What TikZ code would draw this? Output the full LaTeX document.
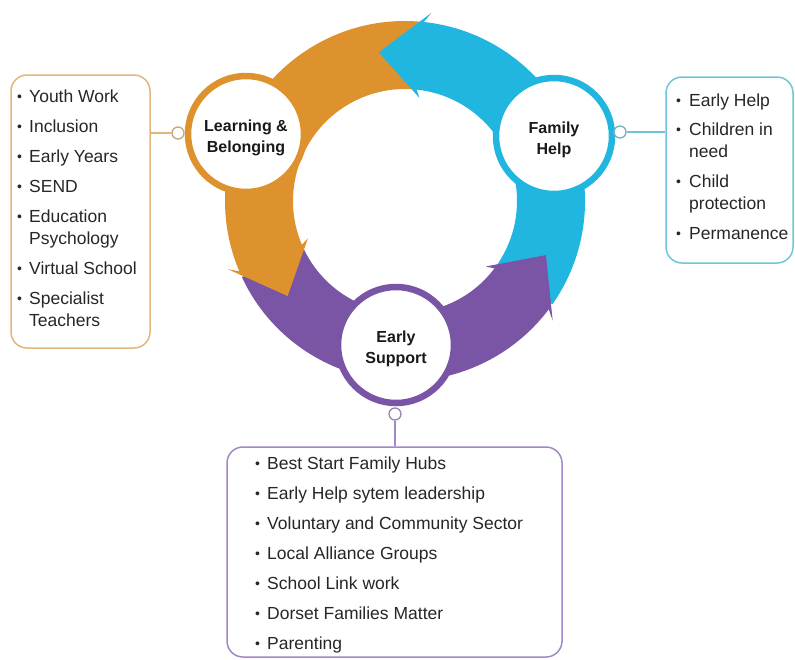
\documentclass[tikz,border=0pt]{standalone}
\usepackage{fontspec}
\setmainfont{Liberation Sans}
\usetikzlibrary{positioning,calc}
\definecolor{lbgold}{RGB}{222,146,45}
\definecolor{fhblue}{RGB}{33,182,224}
\definecolor{espurple}{RGB}{122,84,165}
\definecolor{lbline}{RGB}{226,182,122}
\definecolor{fhline}{RGB}{112,198,216}
\definecolor{esline}{RGB}{162,136,198}
\newcommand{\bul}{\makebox[11pt][l]{\raisebox{1pt}{\fontsize{14}{14}\selectfont\textbullet}}}
\newcommand{\lowtop}{\rule{0pt}{20pt}}
\tikzset{
    ringnode/.style={circle, draw, fill=white, line width=6.5pt, minimum size=116pt, inner sep=0pt, align=center, text=black!90, font=\fontsize{16}{21}\selectfont\bfseries},
    listbox/.style={rectangle, draw, rounded corners=16pt, line width=1.5pt, inner sep=0pt},
    listtext/.style={anchor=base west, inner sep=0pt, text=black!85, font=\fontsize{17.5}{22}\selectfont},
    linkdot/.style={circle, draw, fill=white, line width=1.3pt, minimum size=12pt, inner sep=0pt},
    link/.style={draw, line width=1.5pt}
}
\begin{document}
\begin{tikzpicture}[x=1pt, y=1pt]
    \useasboundingbox (0,0) rectangle (795,-659);

    % Ring of arrows
    \begin{scope}[shift={(405,-201)}]
        \fill[lbgold] (85:180pt) arc[start angle=85, end angle=204, radius=180pt] -- (204:112pt) arc[start angle=204, end angle=85, radius=112pt] -- cycle;
        \fill[espurple] (205:180pt) arc[start angle=205, end angle=324, radius=180pt] -- (324:112pt) arc[start angle=324, end angle=205, radius=112pt] -- cycle;
        \fill[fhblue] (-35:180pt) arc[start angle=-35, end angle=85, radius=180pt] -- (85:112pt) arc[start angle=85, end angle=-35, radius=112pt] -- cycle;
        % heads
        \fill[lbgold] (203:112pt) -- (201:104pt) -- (219:151pt) -- (201:190pt) -- (203:180pt) -- cycle;
        \fill[espurple] (323:112pt) -- (321:104pt) -- (339:151pt) -- (321:190pt) -- (323:180pt) -- cycle;
        \fill[fhblue] (84:112pt) -- (82:104pt) -- (100:151pt) -- (82:190pt) -- (84:180pt) -- cycle;
    \end{scope}

    % Service areas
    \node [ringnode, draw=lbgold] (learn) at (246,-134) {\lowtop Learning \&\\Belonging};
    \node [ringnode, draw=fhblue] (family) at (554,-136) {\lowtop Family\\Help};
    \node [ringnode, draw=espurple] (early) at (396,-345) {\lowtop Early\\Support};

    % Lists
    \node [listbox, draw=lbline, minimum width=139pt, minimum height=273pt] (lbox) at (80.5,-211.5) {};
    \node [listbox, draw=fhline, minimum width=127pt, minimum height=186pt] (fbox) at (729.5,-170) {};
    \node [listbox, draw=esline, minimum width=335pt, minimum height=210pt] (ebox) at (394.5,-552) {};

    \node [listtext] (llist) at (17,-102) {\begin{tabular}[t]{@{}l@{\hspace{1pt}}l@{}}
        \bul & Youth Work\\[8pt]
        \bul & Inclusion\\[8pt]
        \bul & Early Years\\[8pt]
        \bul & SEND\\[8pt]
        \bul & Education\\
             & Psychology\\[8pt]
        \bul & Virtual School\\[8pt]
        \bul & Specialist\\
             & Teachers
    \end{tabular}};
    \node [listtext] (flist) at (676,-106) {\begin{tabular}[t]{@{}l@{\hspace{2pt}}l@{}}
        \bul & Early Help\\[7pt]
        \bul & Children in\\
             & need\\[8pt]
        \bul & Child\\
             & protection\\[8pt]
        \bul & Permanence
    \end{tabular}};
    \node [listtext] (elist) at (255,-469) {\begin{tabular}[t]{@{}l@{\hspace{1pt}}l@{}}
        \bul & Best Start Family Hubs\\[8pt]
        \bul & Early Help sytem leadership\\[8pt]
        \bul & Voluntary and Community Sector\\[8pt]
        \bul & Local Alliance Groups\\[8pt]
        \bul & School Link work\\[8pt]
        \bul & Dorset Families Matter\\[8pt]
        \bul & Parenting
    \end{tabular}};

    % Links
    \node [linkdot, draw=lbline!70!gray] (ldot) at (178,-133) {};
    \node [linkdot, draw=fhline!70!gray] (fdot) at (620,-132) {};
    \node [linkdot, draw=esline!70!gray] (edot) at (395,-414) {};
    \path [link, lbline] (ldot.west) -- (ldot.west -| lbox.east);
    \path [link, fhline] (fdot.east) -- (fdot.east -| fbox.west);
    \path [link, esline] (edot.south) -- (edot.south |- ebox.north);
\end{tikzpicture}
\end{document}
